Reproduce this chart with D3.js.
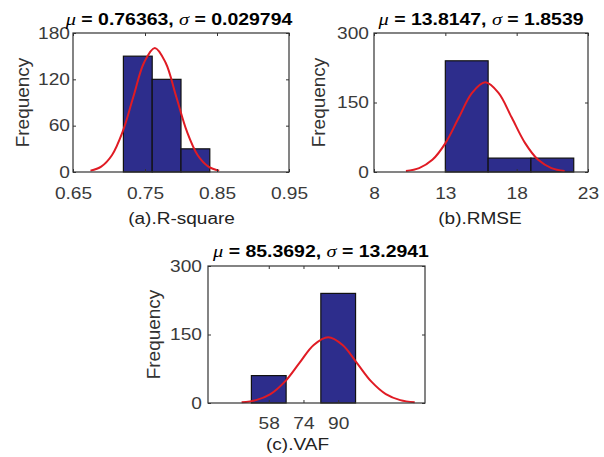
<!DOCTYPE html>
<html><head><meta charset="utf-8">
<script src="https://cdn.jsdelivr.net/npm/d3@7"></script>
<style>body{margin:0;background:#fff}svg{display:block}</style>
</head><body><svg id="chart" width="604" height="457"></svg>
<script>
// ---------- data ----------
const xLabels = ["(a).R-square", "(b).RMSE", "(c).VAF"];
const muText = ["0.76363", "13.8147", "85.3692"];
const sigmaText = ["0.029794", "1.8539", "13.2941"];

const binEdgesA = [0.72, 0.76, 0.80, 0.84];
const countsA = [150, 120, 30];
const binEdgesB = [13, 16, 19, 22];
const countsB = [240, 30, 30];
const binEdgesC = [50, 66, 82, 98];
const countsC = [60, 0, 240];

const xTicksA = [0.65, 0.75, 0.85, 0.95];
const yTicksA = [0, 60, 120, 180];
const xTicksB = [8, 13, 18, 23];
const yTicksB = [0, 150, 300];
const xTicksC = [58, 74, 90];
const yTicksC = [0, 150, 300];

// fitted normal curves
const fitXA = [0.67425, 0.68915, 0.70404, 0.71894, 0.73384, 0.74873, 0.76363, 0.77853, 0.79342, 0.80832, 0.82322, 0.83811, 0.85301];
const fitYA = [1.78, 7.05, 21.74, 52.18, 97.47, 141.82, 160.7, 141.82, 97.47, 52.18, 21.74, 7.05, 1.78];
const fitXB = [10.238, 11.165, 12.092, 13.019, 13.946, 14.873, 15.8, 16.727, 17.654, 18.581, 19.508, 20.435, 21.362];
const fitYB = [2.15, 8.50, 26.21, 62.89, 117.48, 170.94, 193.7, 170.94, 117.48, 62.89, 26.21, 8.50, 2.15];
const fitXC = [45.487, 52.134, 58.781, 65.428, 72.075, 78.722, 85.369, 92.016, 98.663, 105.310, 111.957, 118.604, 125.251];
const fitYC = [1.60, 6.32, 19.48, 46.76, 87.34, 127.08, 144.0, 127.08, 87.34, 46.76, 19.48, 6.32, 1.60];

// ---------- layout ----------
const panels = [
  {edges: binEdgesA, counts: countsA, xTicks: xTicksA, yTicks: yTicksA, fx: fitXA, fy: fitYA,
   xDom: [0.65, 0.95], yDom: [0, 180], box: [73, 289, 33, 172],
   fmt: d3.format(".2f"), yPad: 3, xPad: 15, titleX: 179, titleY: 24.5, labX: 181.5, labY: 224, ylabX: 22},
  {edges: binEdgesB, counts: countsB, xTicks: xTicksB, yTicks: yTicksB, fx: fitXB, fy: fitYB,
   xDom: [8, 23], yDom: [0, 300], box: [374, 588, 33, 172],
   fmt: d3.format("d"), yPad: 5, xPad: 15, titleX: 481, titleY: 24.5, labX: 480, labY: 224, ylabX: 318},
  {edges: binEdgesC, counts: countsC, xTicks: xTicksC, yTicks: yTicksC, fx: fitXC, fy: fitYC,
   xDom: [30, 130], yDom: [0, 300], box: [208, 425, 266, 403],
   fmt: d3.format("d"), yPad: 6, xPad: 14, titleX: 321, titleY: 256.5, labX: 297.5, labY: 450, ylabX: 153}
];

const SX = 1.16;          // horizontal text stretch
const FONT = "'Liberation Sans', Arial, Helvetica, sans-serif";
const svg = d3.select("#chart");

panels.forEach((p, i) => {
  const [x0, x1, y0, y1] = p.box;
  const x = d3.scaleLinear().domain(p.xDom).range([x0, x1]);
  const y = d3.scaleLinear().domain(p.yDom).range([y1, y0]);
  const g = svg.append("g");

  // bars
  const bins = p.counts.map((c, k) => ({a: p.edges[k], b: p.edges[k + 1], c}));
  g.selectAll("rect.bar").data(bins).join("rect")
    .attr("class", "bar")
    .attr("x", d => x(d.a)).attr("width", d => x(d.b) - x(d.a))
    .attr("y", d => y(d.c)).attr("height", d => y(0) - y(d.c))
    .attr("fill", "#2d2d8c").attr("stroke", "#111").attr("stroke-width", 1.2);

  // fitted curve
  const pts = p.fx.map((v, k) => [v, p.fy[k]]);
  g.append("path").datum(pts)
    .attr("fill", "none").attr("stroke", "#e01b24").attr("stroke-width", 2)
    .attr("d", d3.line().x(d => x(d[0])).y(d => y(d[1])).curve(d3.curveCatmullRom));

  // axes (inward ticks, box on)
  const styleAxis = sel => {
    sel.select(".domain").remove();
    sel.selectAll("line").attr("stroke", "#333");
    sel.attr("font-family", FONT).attr("font-size", 16.5);
    sel.selectAll("text").attr("fill", "#3a3a3a");
  };
  g.append("g").attr("transform", `translate(0,${y1})`)
    .call(d3.axisBottom(x).tickValues(p.xTicks).tickFormat(p.fmt).tickSizeInner(-3).tickSizeOuter(0).tickPadding(p.xPad))
    .call(styleAxis)
    .selectAll("text").attr("transform", `scale(${SX},1)`);
  g.append("g").attr("transform", `translate(0,${y0})`)
    .call(d3.axisTop(x).tickValues(p.xTicks).tickFormat("").tickSizeInner(-3).tickSizeOuter(0))
    .call(styleAxis);
  g.append("g").attr("transform", `translate(${x0},0)`)
    .call(d3.axisLeft(y).tickValues(p.yTicks).tickFormat(d3.format("d")).tickSizeInner(-3).tickSizeOuter(0).tickPadding(p.yPad / SX))
    .call(styleAxis)
    .selectAll("text").attr("transform", `scale(${SX},1)`);
  g.append("g").attr("transform", `translate(${x1},0)`)
    .call(d3.axisRight(y).tickValues(p.yTicks).tickFormat("").tickSizeInner(-3).tickSizeOuter(0))
    .call(styleAxis);

  // frame
  g.append("rect").attr("x", x0).attr("y", y0).attr("width", x1 - x0).attr("height", y1 - y0)
    .attr("fill", "none").attr("stroke", "#333").attr("stroke-width", 1.2);

  // title
  const t = g.append("text")
    .attr("transform", `translate(${p.titleX},${p.titleY}) scale(1.2,1)`)
    .attr("text-anchor", "middle").attr("font-family", FONT).attr("font-size", 16.2)
    .attr("font-weight", "bold").attr("fill", "#000");
  t.append("tspan").attr("font-family", "'Liberation Serif', 'Times New Roman', serif")
    .attr("font-style", "italic").attr("font-weight", "normal").attr("font-size", 17).text("\u03bc");
  t.append("tspan").text(" = " + muText[i] + ", ");
  t.append("tspan").attr("font-family", "'Liberation Serif', 'Times New Roman', serif")
    .attr("font-style", "italic").attr("font-weight", "normal").attr("font-size", 17).text("\u03c3");
  t.append("tspan").text(" = " + sigmaText[i]);

  // x label
  g.append("text")
    .attr("transform", `translate(${p.labX},${p.labY}) scale(${SX},1)`)
    .attr("text-anchor", "middle").attr("font-family", FONT).attr("font-size", 16.4)
    .attr("fill", "#222").text(xLabels[i]);

  // y label
  g.append("text")
    .attr("transform", `translate(${p.ylabX + 6.5},${(y0 + y1) / 2}) rotate(-90) scale(1.08,1)`)
    .attr("text-anchor", "middle").attr("font-family", FONT).attr("font-size", 17.6)
    .attr("fill", "#333").text("Frequency");
});
</script></body></html>
